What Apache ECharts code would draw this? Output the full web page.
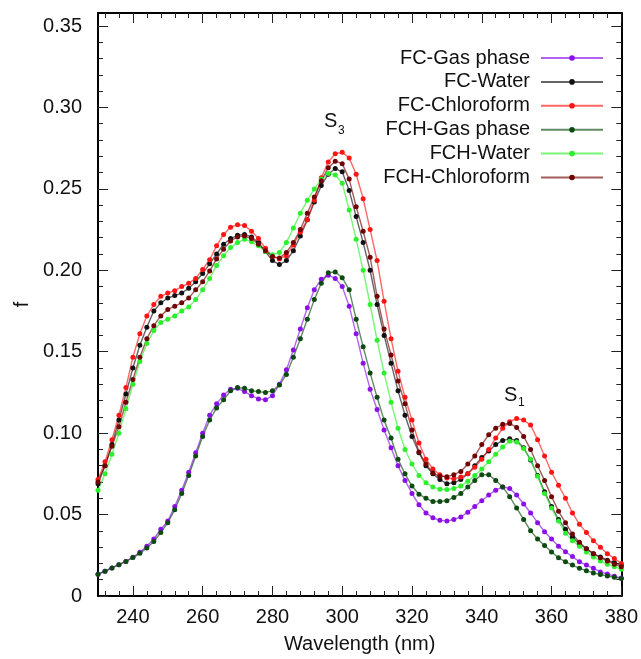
<!DOCTYPE html>
<html>
<head>
<meta charset="utf-8">
<script src="https://cdn.jsdelivr.net/npm/echarts@6/dist/echarts.min.js"></script>
<style>
html,body{margin:0;padding:0;background:#fff;}
#chart{width:641px;height:659px;}
</style>
</head>
<body>
<div id="chart"></div>
<script>
const wavelength = [230,232,234,236,238,240,242,244,246,248,250,252,254,256,258,260,262,264,266,268,270,272,274,276,278,280,282,284,286,288,290,292,294,296,298,300,302,304,306,308,310,312,314,316,318,320,322,324,326,328,330,332,334,336,338,340,342,344,346,348,350,352,354,356,358,360,362,364,366,368,370,372,374,376,378,380];

const fcGas = [0.0134,0.0152,0.0172,0.0192,0.0212,0.0238,0.0268,0.0305,0.035,0.041,0.046,0.055,0.065,0.076,0.088,0.100,0.111,0.118,0.1235,0.127,0.1275,0.1255,0.123,0.121,0.1205,0.123,0.130,0.139,0.151,0.164,0.177,0.188,0.1945,0.197,0.195,0.190,0.178,0.161,0.143,0.127,0.1145,0.102,0.091,0.080,0.071,0.063,0.056,0.051,0.048,0.0465,0.046,0.047,0.0485,0.0515,0.055,0.0585,0.062,0.065,0.067,0.066,0.062,0.0565,0.051,0.045,0.0395,0.035,0.0305,0.0272,0.0242,0.021,0.019,0.017,0.0148,0.0135,0.0122,0.011];

const fcWater = [0.069,0.080,0.093,0.108,0.124,0.140,0.154,0.165,0.175,0.180,0.183,0.1845,0.186,0.189,0.193,0.198,0.204,0.210,0.216,0.2195,0.2215,0.222,0.2205,0.217,0.2115,0.206,0.2035,0.206,0.212,0.221,0.231,0.242,0.252,0.259,0.2625,0.2605,0.249,0.233,0.217,0.200,0.179,0.160,0.143,0.126,0.111,0.098,0.088,0.080,0.075,0.0715,0.069,0.0695,0.0715,0.075,0.080,0.085,0.089,0.093,0.0955,0.0965,0.0955,0.091,0.0835,0.074,0.064,0.055,0.047,0.041,0.036,0.032,0.029,0.026,0.024,0.022,0.0205,0.019];

const fcChloroform = [0.0715,0.0825,0.096,0.111,0.128,0.1466,0.161,0.172,0.179,0.184,0.186,0.1875,0.190,0.192,0.195,0.2005,0.2065,0.215,0.222,0.2265,0.228,0.2275,0.224,0.2195,0.2135,0.2085,0.207,0.209,0.2155,0.2235,0.231,0.243,0.2568,0.2665,0.2715,0.2725,0.269,0.259,0.244,0.225,0.206,0.181,0.158,0.138,0.122,0.108,0.094,0.084,0.078,0.0745,0.0725,0.072,0.073,0.075,0.079,0.084,0.090,0.097,0.103,0.107,0.109,0.108,0.105,0.096,0.086,0.076,0.068,0.060,0.051,0.044,0.039,0.034,0.030,0.026,0.023,0.020];

const fchGas = [0.0134,0.0152,0.0172,0.0192,0.0212,0.0236,0.0262,0.0295,0.0335,0.039,0.045,0.053,0.063,0.074,0.086,0.098,0.108,0.1155,0.1205,0.126,0.128,0.1275,0.126,0.1255,0.125,0.126,0.1295,0.136,0.1466,0.158,0.170,0.182,0.192,0.1985,0.199,0.1955,0.188,0.170,0.153,0.137,0.122,0.108,0.097,0.084,0.075,0.0675,0.0625,0.060,0.058,0.058,0.0585,0.0605,0.063,0.067,0.071,0.0745,0.0745,0.071,0.067,0.061,0.054,0.047,0.040,0.035,0.031,0.027,0.0235,0.021,0.019,0.017,0.0155,0.0142,0.0132,0.0123,0.0115,0.0108];

const fchWater = [0.065,0.075,0.087,0.100,0.115,0.130,0.144,0.155,0.163,0.168,0.170,0.172,0.175,0.1775,0.182,0.188,0.195,0.203,0.209,0.214,0.217,0.219,0.2175,0.215,0.2115,0.2095,0.211,0.217,0.226,0.235,0.243,0.250,0.256,0.2595,0.2585,0.2535,0.237,0.219,0.200,0.179,0.157,0.137,0.119,0.103,0.090,0.081,0.074,0.0695,0.067,0.0655,0.0654,0.066,0.0675,0.0705,0.074,0.078,0.0825,0.087,0.0915,0.095,0.0945,0.0905,0.084,0.0735,0.063,0.054,0.046,0.0385,0.034,0.0305,0.027,0.024,0.0215,0.0195,0.018,0.0165];

const fchChloroform = [0.070,0.080,0.092,0.104,0.119,0.133,0.1466,0.158,0.166,0.172,0.176,0.178,0.180,0.183,0.188,0.193,0.1995,0.207,0.213,0.218,0.2205,0.221,0.2195,0.216,0.212,0.2085,0.2075,0.211,0.217,0.225,0.235,0.245,0.255,0.263,0.267,0.2655,0.256,0.239,0.224,0.208,0.184,0.164,0.148,0.132,0.118,0.102,0.0885,0.081,0.0755,0.0735,0.0733,0.0745,0.0765,0.081,0.086,0.093,0.099,0.103,0.1055,0.106,0.1035,0.098,0.090,0.080,0.071,0.061,0.052,0.045,0.038,0.033,0.029,0.026,0.0235,0.0215,0.0195,0.018];

const seriesNames = ['FC-Gas phase','FC-Water','FC-Chloroform','FCH-Gas phase','FCH-Water','FCH-Chloroform'];
const seriesColors = ['#8b10e8','#111111','#ff1414','#0c4a10','#2cf02c','#700404'];

const xMajorTicks = [240,260,280,300,320,340,360,380];
const xMinorTicks = [232,236,244,248,252,256,264,268,272,276,284,288,292,296,304,308,312,316,324,328,332,336,344,348,352,356,364,368,372,376];
const yMajorTicks = [0,0.05,0.10,0.15,0.20,0.25,0.30,0.35];
const yMinorTicks = [0.01,0.02,0.03,0.04,0.06,0.07,0.08,0.09,0.11,0.12,0.13,0.14,0.16,0.17,0.18,0.19,0.21,0.22,0.23,0.24,0.26,0.27,0.28,0.29,0.31,0.32,0.33,0.34];

const FONT = '"Liberation Sans", Arial, Helvetica, sans-serif';
const X_MIN = 230, X_MAX = 380, Y_MIN = 0, Y_MAX = 0.358;

const allValues = [fcGas, fcWater, fcChloroform, fchGas, fchWater, fchChloroform];

function xAxisDef(position, ticks, len, main) {
  return {
    type: 'value', min: X_MIN, max: X_MAX, position: position,
    axisLine: { show: main, onZero: false, lineStyle: { color: '#000', width: 2 } },
    axisTick: { show: true, inside: true, length: len, customValues: ticks, lineStyle: { color: '#222', width: 1 } },
    axisLabel: { show: main && position === 'bottom', customValues: ticks, fontSize: 20, color: '#111', fontFamily: FONT, margin: 11 },
    splitLine: { show: false },
    name: (main && position === 'bottom') ? 'Wavelength (nm)' : '',
    nameLocation: 'middle', nameGap: 38,
    nameTextStyle: { fontSize: 20, color: '#111', fontFamily: FONT }
  };
}
function yAxisDef(position, ticks, len, main) {
  return {
    type: 'value', min: Y_MIN, max: Y_MAX, position: position,
    axisLine: { show: main, onZero: false, lineStyle: { color: '#000', width: 2 } },
    axisTick: { show: true, inside: true, length: len, customValues: ticks, lineStyle: { color: '#222', width: 1 } },
    axisLabel: { show: main && position === 'left', customValues: ticks, fontSize: 20, color: '#111', fontFamily: FONT, margin: 16,
      formatter: function (v) { return v === 0 ? '0' : v.toFixed(2); } },
    splitLine: { show: false },
    name: (main && position === 'left') ? 'f' : '',
    nameLocation: 'middle', nameGap: 64,
    nameTextStyle: { fontSize: 20, color: '#111', fontFamily: FONT }
  };
}

const chart = echarts.init(document.getElementById('chart'), null, { renderer: 'canvas' });
chart.setOption({
  animation: false,
  backgroundColor: '#fff',
  grid: { left: 98, right: 19, top: 13, bottom: 59, containLabel: false },
  xAxis: [
    xAxisDef('bottom', xMajorTicks, 10, true),
    xAxisDef('bottom', xMinorTicks, 5, false),
    xAxisDef('top', xMajorTicks, 10, true),
    xAxisDef('top', xMinorTicks, 5, false)
  ],
  yAxis: [
    yAxisDef('left', yMajorTicks, 10, true),
    yAxisDef('left', yMinorTicks, 5, false),
    yAxisDef('right', yMajorTicks, 10, true),
    yAxisDef('right', yMinorTicks, 5, false)
  ],
  legend: {
    orient: 'vertical', right: 37, top: 48, align: 'right', padding: 0,
    itemWidth: 62, itemHeight: 7, itemGap: 3.9,
    textStyle: { fontSize: 20, color: '#111', fontFamily: FONT, padding: [0, 6, 0, 0] },
    data: seriesNames
  },
  series: seriesNames.map(function (name, i) {
    return {
      name: name, type: 'line', xAxisIndex: 0, yAxisIndex: 0,
      symbol: 'circle', symbolSize: 5, showAllSymbol: true,
      itemStyle: { color: seriesColors[i] },
      lineStyle: { color: seriesColors[i], width: 1.4, opacity: 0.65 },
      emphasis: { disabled: true },
      data: wavelength.map(function (w, k) { return [w, allValues[i][k]]; })
    };
  }),
  graphic: [
    { type: 'text', x: 324, y: 111, style: { text: 'S', fontSize: 20, fontFamily: FONT, fill: '#111', verticalAlign: 'top' } },
    { type: 'text', x: 338, y: 125, style: { text: '3', fontSize: 12, fontFamily: FONT, fill: '#111', verticalAlign: 'top' } },
    { type: 'text', x: 504, y: 385, style: { text: 'S', fontSize: 20, fontFamily: FONT, fill: '#111', verticalAlign: 'top' } },
    { type: 'text', x: 518, y: 397, style: { text: '1', fontSize: 12, fontFamily: FONT, fill: '#111', verticalAlign: 'top' } }
  ]
});
</script>
</body>
</html>
